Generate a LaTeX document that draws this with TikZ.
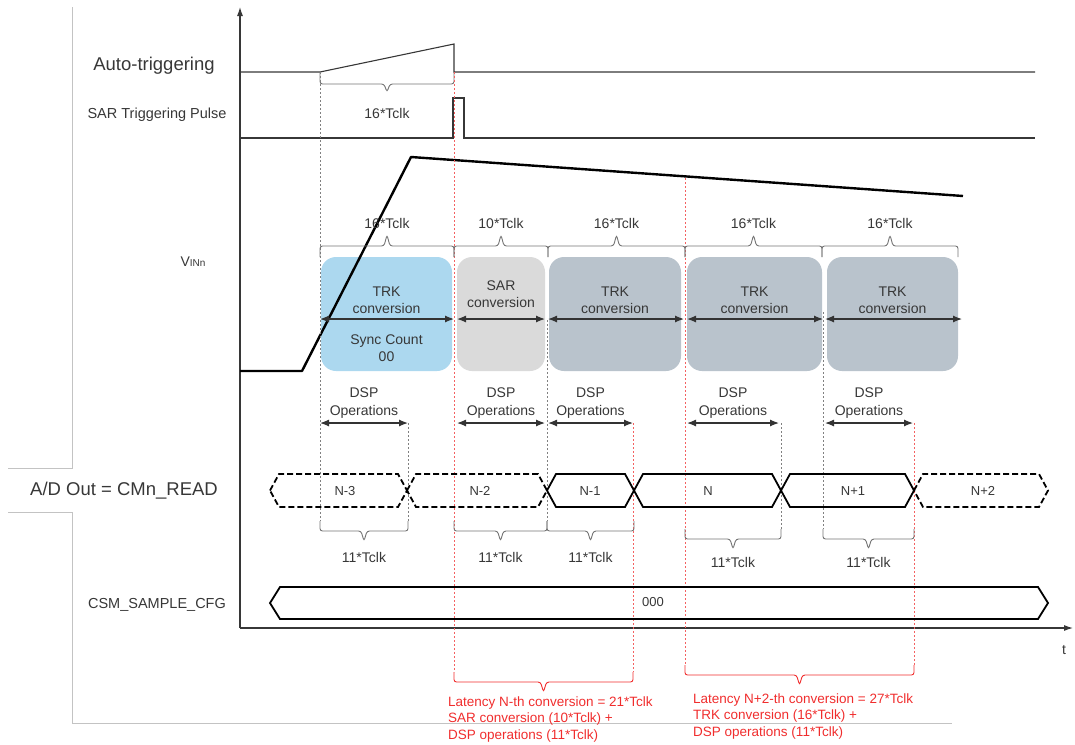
\documentclass[tikz,border=0pt]{standalone}
\usepackage{fontspec}
\setmainfont{Liberation Sans}
\usetikzlibrary{arrows.meta}
\definecolor{trkblue}{RGB}{172,216,239}
\definecolor{sargray}{RGB}{218,218,218}
\definecolor{trkgray}{RGB}{185,195,204}
\definecolor{latred}{RGB}{240,45,45}
\definecolor{framegray}{RGB}{195,195,195}
\definecolor{ink}{RGB}{55,55,55}

\tikzset{
  pics/clkbrace/.style n args={3}{code={
    \draw[rounded corners=2.5pt] (0,0) -- (0,#2) -- ({(#1)/2-3},#2) -- ({(#1)/2},#3)
      -- ({(#1)/2+3},#2) -- (#1,#2) -- (#1,0);
  }}
}

\begin{document}
\begin{tikzpicture}[x=1pt, y=-1pt,
    every node/.style={text=ink, inner sep=0pt},
    big/.style={font=\fontsize{18.5}{22}\selectfont},
    mid/.style={font=\fontsize{14.5}{17}\selectfont},
    lbl/.style={font=\fontsize{14}{17.5}\selectfont, align=center},
    buslbl/.style={font=\fontsize{13}{15}\selectfont},
    latency/.style={font=\fontsize{13.5}{16.5}\selectfont, text=latred, align=left, anchor=west},
    wave/.style={ink, line width=1.1pt},
    frame/.style={framegray, line width=0.8pt},
    convbox/.style={rounded corners=15pt, minimum height=114pt},
    span/.style={{Latex[length=9pt,width=7pt]}-{Latex[length=9pt,width=7pt]}, line width=1.2pt, black!80},
    gmark/.style={gray, dash pattern=on 2pt off 2pt, line width=0.7pt},
    rmark/.style={latred!75, dash pattern=on 2pt off 2pt, line width=0.8pt},
    clk/.style={gray!90!black, line width=0.9pt},
    bus/.style={line width=1.8pt, black, line join=miter},
    ghost/.style={bus, dash pattern=on 6pt off 3pt}
]
\useasboundingbox (0,0) rectangle (1075,744);

% page frame
\draw[frame] (72,7) -- (72,468) -- (8,468);
\draw[frame] (8,512) -- (72,512) -- (72,723) -- (952,723);

% axes
\draw[wave, -{Latex[length=9pt,width=6pt]}] (240,628) -- (240,7);
\draw[wave, -{Latex[length=9pt,width=6pt]}] (240,628) -- (1073,628);
\node[lbl] (t) at (1064,650) {t};

% triggering
\node[big] (auto) at (154,66) {Auto-triggering};
\draw[wave] (240,72) -- (320,72) -- (454,44) -- (454,72) -- (1035,72);
\node[mid] (sarpulse) at (157,115) {SAR Triggering Pulse};
\draw[wave] (240,138) -- (453,138) -- (453,98) -- (464,98) -- (464,138) -- (1035,138);
\pic[clk] at (320,72) {clkbrace={134}{12}{20}};
\node[lbl] (ramp) at (387,113) {16*Tclk};

% conversion windows
\node[convbox, fill=trkblue, minimum width=131pt] (sync) at (386.5,314) {};
\node[convbox, fill=sargray, minimum width=88pt] (sar) at (501,314) {};
\node[lbl] at (386.5,300) {TRK\\conversion};
\node[lbl] at (386.5,348) {Sync Count\\00};
\node[lbl] at (501,294) {SAR\\conversion};
\foreach \xa/\xb [count=\i] in {549/681, 687/822, 827/958} {
  \node[convbox, fill=trkgray, minimum width=\xb-\xa] (trk\i) at ({(\xa+\xb)/2},314) {};
  \node[lbl] at ([yshift=14pt]trk\i.center) {TRK\\conversion};
}

% V_IN
\node[lbl] (vin) at (193,262) {V{\fontsize{10}{12}\selectfont INn}};
\draw[black, line width=2.4pt, line join=round] (240,371) -- (302,371) -- (411,157) -- (963,196);

% markers
\draw[gmark] (320,72) -- (320,521);
\draw[gmark] (408,423) -- (408,521);
\draw[gmark] (547,320) -- (547,521);
\draw[gmark] (781,423) -- (781,529);
\draw[gmark] (823,312) -- (823,529);
\draw[rmark] (454,72) -- (454,672);
\draw[rmark] (633,423) -- (633,672);
\draw[rmark] (685,178) -- (685,665);
\draw[rmark] (914,423) -- (914,665);

\foreach \xa/\xb/\n [count=\i] in {320/454/16, 454/548/10, 548/685/16, 685/822/16, 822/958/16} {
  \pic[clk] at (\xa,257) {clkbrace={\xb-\xa}{-11}{-22}};
  \node[lbl] (win\i) at ({(\xa+\xb)/2},223) {\n*Tclk};
}
\foreach \xa/\xb in {320/454, 457/545, 548/684, 687/823, 825/962}
  \draw[span] (\xa,319) -- (\xb,319);

% DSP
\foreach \xa/\xb [count=\i] in {320/408, 457/545, 548/633, 687/779, 825/913} {
  \draw[span] (\xa,423) -- (\xb,423);
  \node[lbl] (dsp\i) at ({(\xa+\xb)/2},403) {DSP\\Operations};
}

% A/D out
\node[big] (adout) at (124,491) {A/D Out = CMn\_READ};
\foreach \xa/\xb/\xl/\val/\sty [count=\i] in {270/407/345/N-3/ghost, 407/547/480/N-2/ghost,
    547/634/590/N-1/bus, 634/781/708/N/bus, 781/914/853/N+1/bus, 914/1048/983/N+2/ghost} {
  \draw[\sty] (\xa,490.5) -- (\xa+9,474) -- (\xb-9,474) -- (\xb,490.5) -- (\xb-9,507) -- (\xa+9,507) -- cycle;
  \node[buslbl] (cm\i) at (\xl,491) {\val};
}
\foreach \xa/\xb/\ye/\yl [count=\i] in {320/408/521/557, 454/547/521/557, 547/634/521/557,
    685/781/529/562, 823/914/529/562} {
  \pic[clk] at (\xa,\ye) {clkbrace={\xb-\xa}{10}{20}};
  \node[lbl] (tc\i) at ({(\xa+\xb)/2},\yl) {11*Tclk};
}

% sample cfg
\node[mid] (csm) at (157,605) {CSM\_SAMPLE\_CFG};
\draw[bus] (270,603) -- (280,587) -- (1038,587) -- (1048,603) -- (1038,619) -- (280,619) -- cycle;
\node[buslbl] (cfg) at (653,602) {000};

% latency
\pic[latred, line width=0.9pt] at (454,672) {clkbrace={179}{10}{20}};
\pic[latred, line width=0.9pt] at (685,665) {clkbrace={229}{10}{20}};
\node[latency] (latn) at (448,719) {Latency N-th conversion = 21*Tclk\\SAR conversion (10*Tclk) +\\DSP operations (11*Tclk)};
\node[latency] (latnn) at (693,716) {Latency N+2-th conversion = 27*Tclk\\TRK conversion (16*Tclk) +\\DSP operations (11*Tclk)};
\end{tikzpicture}
\end{document}
